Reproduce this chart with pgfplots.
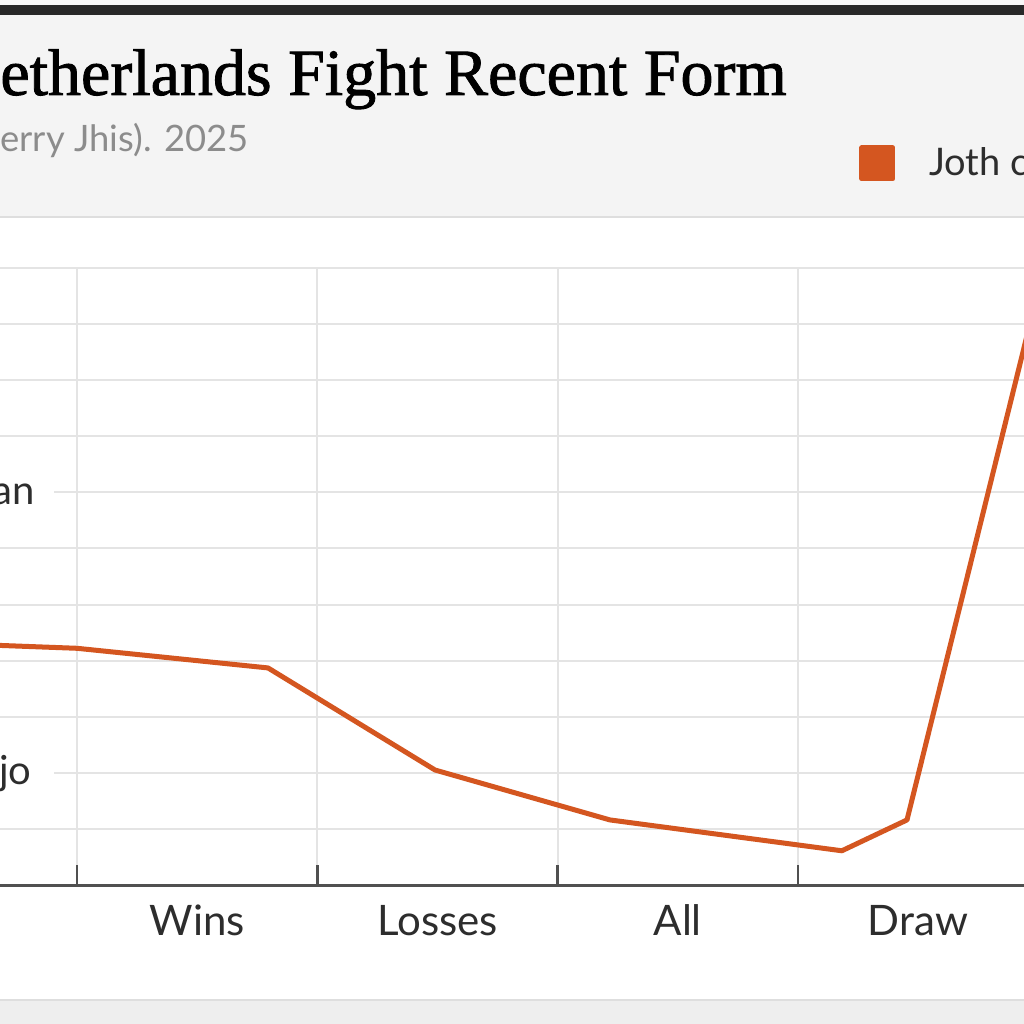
\documentclass[border=0pt]{standalone}
\usepackage{pgfplots}
\pgfplotsset{compat=1.18}
\usepackage{fontspec}
\setmainfont{Lato}
\newfontfamily\titlefont[FakeBold=1.3]{Liberation Serif}
\definecolor{lineorange}{RGB}{212,86,32}
\definecolor{gridgray}{RGB}{228,228,228}
\definecolor{axisgray}{RGB}{80,80,80}
\definecolor{headergray}{RGB}{244,244,244}
\definecolor{headerline}{RGB}{222,222,222}
\definecolor{darkbar}{RGB}{40,40,40}
\definecolor{subgray}{RGB}{140,140,140}
\definecolor{labelgray}{RGB}{45,45,45}
\definecolor{footgray}{RGB}{238,238,238}
\begin{document}
\begin{tikzpicture}
\useasboundingbox (0,0) rectangle (512pt,512pt);
\clip (0,0) rectangle (512pt,512pt);
\fill[white] (0,0) rectangle (512pt,512pt);
\fill[headergray] (0,403.5pt) rectangle (512pt,504.5pt);
\draw[headerline, line width=1pt] (0,403.5pt) -- (512pt,403.5pt);
\fill[darkbar] (0,504.5pt) rectangle (512pt,509.5pt);
\fill[headergray!60!white] (0,509.5pt) rectangle (512pt,512pt);
\fill[footgray] (0,0) rectangle (512pt,12pt);
\draw[headerline, line width=1pt] (0,12pt) -- (512pt,12pt);
\node[anchor=base west, inner sep=0pt] at (0pt,464.5pt) {\titlefont\fontsize{33pt}{33pt}\selectfont etherlands Fight Recent Form};
\node[anchor=base west, inner sep=0pt, text=subgray] at (0pt,436pt) {\fontsize{18.2pt}{18.2pt}\selectfont erry Jhis). 2025};
\begin{axis}[
  at={(-21.575pt,69.5pt)}, anchor=south west,
  scale only axis, width=552.7pt, height=308.5pt,
  xmin=-0.5, xmax=4.1, ymin=0, ymax=11,
  axis lines*=left,
  axis line style={axisgray, line width=1.5pt},
  tick align=inside,
  xtick={0.5,1.5,2.5,3.5}, xticklabels={Wins,Losses,All,Draw},
  minor xtick={0,1,2,3,4},
  ytick={2,7}, yticklabels={jo\kern11.5pt\relax,an\kern10pt\relax},
  minor ytick={0,1,...,11},
  major tick length=0pt,
  minor tick length=10pt,
  minor tick style={axisgray, line width=1.2pt},
  grid=minor,
  minor grid style={gridgray, line width=1pt},
  xticklabel style={font=\fontsize{21pt}{21pt}\selectfont, text=labelgray, anchor=base, yshift=-25pt},
  yticklabel style={font=\fontsize{20pt}{20pt}\selectfont, text=labelgray, anchor=base east, inner sep=0pt, fill=white, xshift=49pt, yshift=-6pt},
  legend style={at={(axis description cs:0.8161,1.1694)}, anchor=west, draw=none, fill=none, inner sep=0pt, font=\fontsize{19pt}{19pt}\selectfont, text=labelgray, nodes={inner sep=0pt}, /tikz/every odd column/.append style={column sep=17pt}},
  legend image code/.code={\fill[lineorange] (0pt,-7.75pt) rectangle (15.5pt,7.75pt);},
]
\addplot[lineorange, line width=2.5pt, line join=round] coordinates {(-0.5,4.30) (0,4.22) (0.795,3.87) (1.49,2.05) (2.218,1.16) (3.183,0.61) (3.454,1.16) (4.0,10.6)};
\addlegendentry{Joth cost}
\end{axis}
\end{tikzpicture}
\end{document}
